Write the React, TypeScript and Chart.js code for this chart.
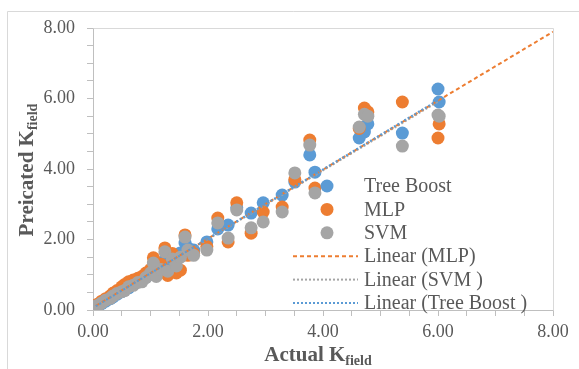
import React, { useEffect, useRef } from 'react';
import { Chart, registerables } from 'chart.js';

Chart.register(...registerables);

// ---- data ----
const actual = [
  0.05, 0.10, 0.15, 0.22, 0.30, 0.35, 0.42, 0.50, 0.55, 0.62,
  0.70, 0.78, 0.85, 0.92, 1.00, 1.05, 1.10, 1.18, 1.25, 1.30,
  1.38, 1.45, 1.52, 1.60, 1.65, 1.75, 1.98, 2.17, 2.35, 2.50,
  2.75, 2.96, 3.29, 3.51, 3.77, 3.86, 4.63, 4.72, 4.78, 5.38,
  6.00, 6.02,
];
const treeBoost = [
  0.10, 0.13, 0.18, 0.25, 0.32, 0.37, 0.45, 0.52, 0.58, 0.63,
  0.72, 0.80, 0.86, 0.93, 1.02, 1.08, 1.12, 1.22, 1.42, 1.28,
  1.55, 1.48, 1.62, 1.90, 1.76, 1.70, 1.93, 2.30, 2.41, 2.90,
  2.75, 3.04, 3.26, 3.63, 4.40, 3.91, 4.88, 5.05, 5.28, 5.02,
  6.27, 5.90,
];
const mlp = [
  0.14, 0.18, 0.25, 0.32, 0.40, 0.48, 0.55, 0.66, 0.72, 0.80,
  0.85, 0.90, 0.95, 1.05, 1.15, 1.48, 1.00, 1.30, 1.76, 0.98,
  1.60, 1.05, 1.13, 2.13, 1.55, 1.60, 1.80, 2.61, 1.93, 3.04,
  2.18, 2.78, 2.92, 3.70, 4.82, 3.46, 5.15, 5.73, 5.62, 5.90,
  4.88, 5.28,
];
const svm = [
  0.11, 0.14, 0.20, 0.28, 0.33, 0.40, 0.47, 0.52, 0.55, 0.66,
  0.70, 0.78, 0.80, 0.92, 1.05, 1.33, 0.95, 1.15, 1.65, 1.10,
  1.45, 1.25, 1.50, 2.07, 1.70, 1.55, 1.70, 2.47, 2.04, 2.84,
  2.33, 2.50, 2.78, 3.89, 4.68, 3.32, 5.19, 5.55, 5.50, 4.65,
  5.53, 5.50,
];
const seriesNames = ['Tree Boost', 'MLP', 'SVM'];
const trendNames = ['Linear (MLP)', 'Linear (SVM )', 'Linear (Tree Boost )'];
// linear trend lines: [slope, intercept, xStart, xEnd]
const trendMlp = [0.978, 0.07, 0.05, 8.0];
const trendSvm = [0.975, 0.06, 0.05, 6.02];
const trendTreeBoost = [0.982, 0.06, 0.05, 6.02];
const axisMin = 0;
const axisMax = 8;
const majorStep = 2;
const minorStep = 0.5;
const xTitleParts = ['Actual ', 'K', 'field'];
const yTitleParts = ['Preicated ', 'K', 'field'];

// ---- styles ----
const BLUE = '#5B9BD5';
const ORANGE = '#ED7D31';
const GRAY = '#A5A5A5';
const TEXT = '#595959';
const FONT = '"Liberation Serif", "Times New Roman", serif';

function trendData(t: number[]) {
  const [m, b, x0, x1] = t;
  return [{ x: x0, y: m * x0 + b }, { x: x1, y: m * x1 + b }];
}

function pts(ys: number[]) {
  return actual.map((x, i) => ({ x, y: ys[i] }));
}

const DOT = [2, 2];
const DASH = [4, 3];

const legendPlugin = {
  id: 'customLegend',
  afterDraw(chart: any) {
    const ctx = chart.ctx;
    const items = [
      { kind: 'pt', color: BLUE, label: seriesNames[0] },
      { kind: 'pt', color: ORANGE, label: seriesNames[1] },
      { kind: 'pt', color: GRAY, label: seriesNames[2] },
      { kind: 'ln', color: ORANGE, dash: DASH, label: trendNames[0] },
      { kind: 'ln', color: GRAY, dash: DOT, label: trendNames[1] },
      { kind: 'ln', color: BLUE, dash: DOT, label: trendNames[2] },
    ];
    const top = 186;
    const gap = 23.4;
    ctx.save();
    items.forEach((it: any, i: number) => {
      const y = top + i * gap;
      if (it.kind === 'pt') {
        ctx.fillStyle = it.color;
        ctx.beginPath();
        ctx.arc(327, y, 6.5, 0, Math.PI * 2);
        ctx.fill();
      } else {
        ctx.strokeStyle = it.color;
        ctx.lineWidth = 2;
        ctx.setLineDash(it.dash);
        ctx.beginPath();
        ctx.moveTo(293, y);
        ctx.lineTo(358, y);
        ctx.stroke();
        ctx.setLineDash([]);
      }
      ctx.fillStyle = TEXT;
      ctx.font = `20px ${FONT}`;
      ctx.textBaseline = 'middle';
      ctx.textAlign = 'left';
      ctx.fillText(it.label, 364, y + 1);
    });
    ctx.restore();
  },
};

function drawTitle(ctx: CanvasRenderingContext2D, parts: string[]) {
  const big = `bold 21px ${FONT}`;
  const small = `bold 14px ${FONT}`;
  ctx.font = big;
  const w0 = ctx.measureText(parts[0]).width;
  const w1 = ctx.measureText(parts[1]).width;
  ctx.font = small;
  const w2 = ctx.measureText(parts[2]).width;
  const total = w0 + w1 + w2;
  let x = -total / 2;
  ctx.textAlign = 'left';
  ctx.textBaseline = 'alphabetic';
  ctx.font = big;
  ctx.fillText(parts[0], x, 0);
  x += w0;
  ctx.fillText(parts[1], x, 0);
  x += w1;
  ctx.font = small;
  ctx.fillText(parts[2], x, 4);
}

const framePlugin = {
  id: 'frame',
  beforeDraw(chart: any) {
    const ctx = chart.ctx;
    ctx.save();
    ctx.fillStyle = '#ffffff';
    ctx.fillRect(0, 0, chart.width, chart.height);
    ctx.strokeStyle = '#d9d9d9';
    ctx.lineWidth = 1;
    ctx.beginPath();
    ctx.moveTo(7.5, chart.height);
    ctx.lineTo(7.5, 11.5);
    ctx.lineTo(chart.width, 11.5);
    ctx.stroke();
    ctx.restore();
  },
  beforeDatasetsDraw(chart: any) {
    const { ctx, chartArea: a } = chart;
    ctx.save();
    ctx.strokeStyle = '#d9d9d9';
    ctx.lineWidth = 1;
    ctx.beginPath();
    ctx.moveTo(Math.round(a.left) + 0.5, Math.round(a.top) + 0.5);
    ctx.lineTo(Math.round(a.right) + 0.5, Math.round(a.top) + 0.5);
    ctx.lineTo(Math.round(a.right) + 0.5, Math.round(a.bottom) + 0.5);
    ctx.stroke();
    ctx.restore();
  },
  afterDraw(chart: any) {
    const { ctx } = chart;
    ctx.save();
    ctx.fillStyle = TEXT;
    ctx.translate(318, 361);
    drawTitle(ctx, xTitleParts);
    ctx.restore();
    ctx.save();
    ctx.fillStyle = TEXT;
    ctx.translate(33, 170);
    ctx.rotate(-Math.PI / 2);
    drawTitle(ctx, yTitleParts);
    ctx.restore();
  },
};

function axis(isX: boolean) {
  return {
    type: 'linear' as const,
    min: axisMin,
    max: axisMax,
    ticks: {
      stepSize: minorStep,
      maxTicksLimit: 100,
      autoSkip: false,
      maxRotation: 0,
      padding: isX ? 5 : 12,
      color: TEXT,
      font: { family: FONT, size: 18 },
      callback: (v: any) => (Math.abs(v % majorStep) < 1e-9 ? Number(v).toFixed(2) : ''),
    },
    grid: {
      display: true,
      drawOnChartArea: false,
      drawTicks: true,
      tickLength: 6,
      color: '#bfbfbf',
    },
    border: { display: true, color: '#bfbfbf', width: 1 },
    afterFit: (s: any) => {
      if (isX) s.height = 59;
      else s.width = 93;
    },
  };
}

export default function App() {
  const ref = useRef<HTMLCanvasElement | null>(null);
  useEffect(() => {
    document.body.style.margin = '0';
    const canvas = ref.current!;
    const chart = new Chart(canvas, {
      type: 'scatter',
      data: {
        datasets: [
          { label: seriesNames[0], data: pts(treeBoost), backgroundColor: BLUE, borderWidth: 0, pointRadius: 6.5, order: 4 },
          { label: seriesNames[1], data: pts(mlp), backgroundColor: ORANGE, borderWidth: 0, pointRadius: 6.5, order: 3 },
          { label: seriesNames[2], data: pts(svm), backgroundColor: GRAY, borderWidth: 0, pointRadius: 6.5, order: 2 },
          { label: trendNames[0], data: trendData(trendMlp), showLine: true, borderColor: ORANGE, borderWidth: 2, borderDash: DASH, pointRadius: 0, order: 1 },
          { label: trendNames[1], data: trendData(trendSvm), showLine: true, borderColor: GRAY, borderWidth: 2, borderDash: DOT, pointRadius: 0, order: 1 },
          { label: trendNames[2], data: trendData(trendTreeBoost), showLine: true, borderColor: BLUE, borderWidth: 2, borderDash: DOT, pointRadius: 0, order: 0 },
        ] as any,
      },
      options: {
        animation: false,
        responsive: false,
        devicePixelRatio: 1,
        layout: { padding: { left: 0, right: 26, top: 28, bottom: 0 } },
        plugins: { legend: { display: false }, tooltip: { enabled: false } },
        scales: { x: axis(true), y: axis(false) } as any,
      },
      plugins: [framePlugin, legendPlugin],
    });
    return () => chart.destroy();
  }, []);
  return (
    <div style={{ width: 579, height: 369 }}>
      <canvas ref={ref} width={579} height={369} />
    </div>
  );
}
